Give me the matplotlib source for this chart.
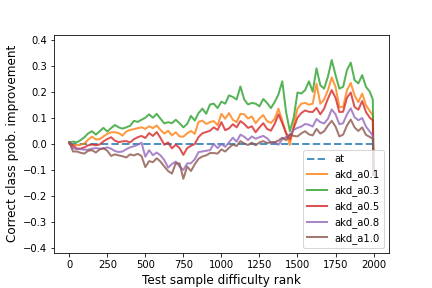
import numpy as np
import matplotlib
matplotlib.use('Agg')
import matplotlib.pyplot as plt

# test samples sorted by difficulty rank (sampled every 25, plus the tail)
rank = list(range(0, 2000, 25)) + [1995, 2000]

at_rank = [0, 2000]
at_vals = [0.0, 0.0]

akd_a01 = [0.0, -0.005, -0.006, -0.004, 0.001, 0.016, 0.027, 0.017, 0.017, 0.028,
           0.038, 0.044, 0.044, 0.041, 0.031, 0.047, 0.053, 0.056, 0.06, 0.063,
           0.057, 0.067, 0.06, 0.07, 0.053, 0.039, 0.05, 0.032, 0.044, 0.028,
           0.027, 0.04, 0.049, 0.038, 0.084, 0.089, 0.076, 0.083, 0.087, 0.071,
           0.115, 0.096, 0.118, 0.092, 0.083, 0.115, 0.113, 0.097, 0.105, 0.079,
           0.097, 0.11, 0.087, 0.08, 0.096, 0.135, 0.089, 0.04, -0.004, 0.07,
           0.135, 0.154, 0.157, 0.15, 0.154, 0.231, 0.154, 0.17, 0.206, 0.255,
           0.219, 0.141, 0.141, 0.206, 0.234, 0.186, 0.16, 0.193, 0.148, 0.126,
           0.11, -0.12]

akd_a03 = [0.005, 0.008, 0.005, 0.014, 0.025, 0.04, 0.048, 0.035, 0.048, 0.061,
           0.047, 0.06, 0.072, 0.063, 0.058, 0.063, 0.069, 0.088, 0.084, 0.092,
           0.1, 0.113, 0.1, 0.115, 0.096, 0.078, 0.083, 0.079, 0.092, 0.079,
           0.063, 0.076, 0.107, 0.089, 0.118, 0.135, 0.115, 0.151, 0.154, 0.137,
           0.162, 0.154, 0.186, 0.18, 0.17, 0.22, 0.17, 0.151, 0.157, 0.154,
           0.144, 0.172, 0.157, 0.137, 0.16, 0.19, 0.24, 0.122, 0.048, 0.1,
           0.197, 0.193, 0.206, 0.24, 0.2, 0.29, 0.225, 0.212, 0.258, 0.322,
           0.264, 0.212, 0.219, 0.283, 0.312, 0.245, 0.232, 0.264, 0.219, 0.2,
           0.17, -0.12]

akd_a05 = [0.005, -0.008, -0.019, -0.019, -0.014, -0.006, -0.003, -0.006, -0.003, 0.009,
           0.018, 0.025, 0.012, 0.006, 0.009, 0.01, 0.005, 0.017, 0.025, 0.03,
           0.022, 0.041, 0.03, 0.045, 0.022, -0.004, 0.005, -0.018, -0.004, -0.017,
           -0.043, -0.017, -0.008, -0.001, 0.026, 0.04, 0.045, 0.05, 0.063, 0.053,
           0.083, 0.052, 0.059, 0.075, 0.063, 0.087, 0.076, 0.061, 0.067, 0.044,
           0.063, 0.079, 0.057, 0.05, 0.076, 0.113, 0.079, 0.041, 0.016, 0.06,
           0.1, 0.118, 0.128, 0.123, 0.122, 0.138, 0.113, 0.135, 0.173, 0.206,
           0.177, 0.122, 0.123, 0.177, 0.197, 0.141, 0.131, 0.164, 0.122, 0.1,
           0.09, -0.12]

akd_a08 = [0.005, -0.017, -0.021, -0.021, -0.023, -0.023, -0.019, -0.017, -0.019, -0.019,
           -0.014, -0.019, -0.028, -0.032, -0.03, -0.021, -0.014, -0.01, -0.004, 0.004,
           -0.05, -0.025, -0.044, -0.034, -0.045, -0.063, -0.092, -0.078, -0.069, -0.088,
           -0.101, -0.076, -0.075, -0.06, -0.032, -0.03, -0.027, -0.025, -0.001, -0.017,
           -0.001, -0.012, 0.005, 0.023, 0.008, 0.035, 0.027, 0.014, 0.028, 0.019,
           0.025, 0.03, 0.021, 0.005, 0.006, -0.004, 0.017, 0.026, 0.034, 0.053,
           0.061, 0.066, 0.076, 0.073, 0.066, 0.095, 0.083, 0.078, 0.096, 0.132,
           0.113, 0.075, 0.079, 0.113, 0.136, 0.102, 0.09, 0.099, 0.066, 0.047,
           0.03, -0.12]

akd_a10 = [0.005, -0.03, -0.03, -0.035, -0.038, -0.027, -0.025, -0.034, -0.022, -0.017,
           -0.027, -0.047, -0.041, -0.045, -0.048, -0.053, -0.041, -0.045, -0.039, -0.047,
           -0.09, -0.067, -0.071, -0.056, -0.069, -0.088, -0.105, -0.115, -0.075, -0.076,
           -0.135, -0.088, -0.105, -0.079, -0.058, -0.049, -0.045, -0.036, -0.036, -0.038,
           -0.022, -0.03, -0.016, -0.003, -0.009, 0.01, 0.001, -0.005, 0.004, -0.006,
           0.005, 0.01, 0.003, 0.005, 0.006, 0.012, 0.023, 0.014, 0.036, 0.03,
           0.028, 0.04, 0.048, 0.036, 0.032, 0.057, 0.039, 0.048, 0.07, 0.088,
           0.066, 0.028, 0.035, 0.07, 0.093, 0.063, 0.049, 0.063, 0.034, 0.026,
           0.02, -0.12]

series = [('akd_a0.1', akd_a01), ('akd_a0.3', akd_a03), ('akd_a0.5', akd_a05),
          ('akd_a0.8', akd_a08), ('akd_a1.0', akd_a10)]

fig = plt.figure(figsize=(6, 4), dpi=72)
ax = plt.gca()
ax.plot(at_rank, at_vals, '--', lw=2, alpha=0.8, label='at')
for name, vals in series:
    ax.plot(rank, vals, lw=2, alpha=0.8, label=name)

ax.set_ylim(-0.42, 0.42)
ax.set_xlabel('Test sample difficulty rank', fontsize=12)
ax.set_ylabel('Correct class prob. improvement', fontsize=12)
ax.legend(loc='lower right')

plt.subplots_adjust(bottom=0.122)
fig.savefig('out.png', dpi=72)
